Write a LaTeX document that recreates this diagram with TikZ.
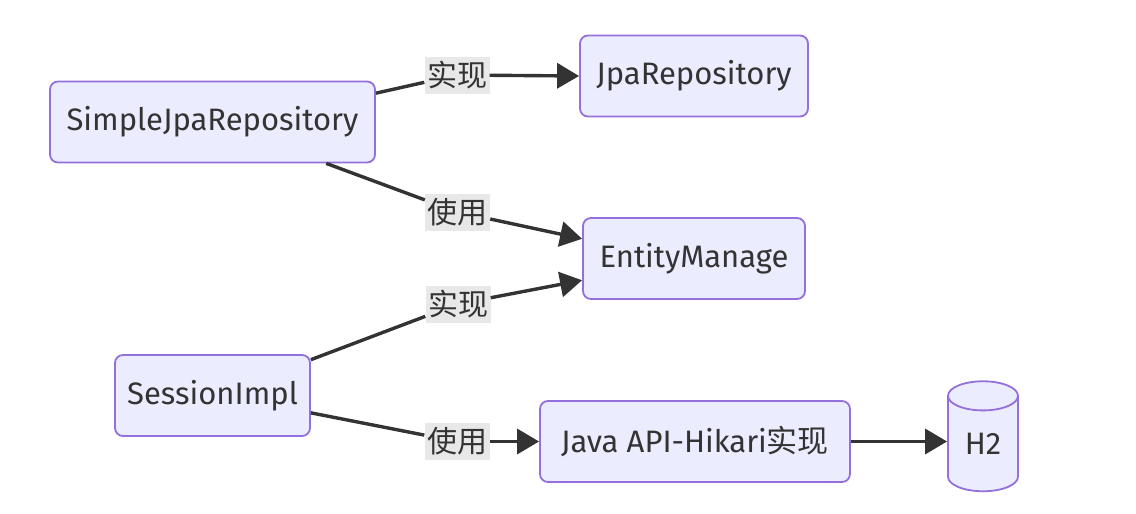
\documentclass[tikz,border=0pt]{standalone}
\usepackage{fontspec}
\setmainfont{Fira Sans}
\newfontfamily\cjk{Noto Sans CJK SC}
\usetikzlibrary{arrows.meta, shapes.geometric}
\definecolor{cnode}{HTML}{ECECFF}
\definecolor{cborder}{HTML}{9370DB}
\definecolor{cline}{HTML}{333333}
\definecolor{clabel}{HTML}{E8E8E8}
\tikzset{
  every picture/.style={font=\fontsize{31}{36}\selectfont, text=cline},
  box/.style={draw=cborder, fill=cnode, rounded corners=8pt, line width=1.8pt, minimum height=81pt, inner sep=0pt},
  edgelabel/.style={fill=clabel, inner sep=0pt, font=\cjk\fontsize{30}{34}\selectfont, minimum width=65pt, minimum height=37pt},
  link/.style={draw=cline, line width=3.4pt},
  arrow/.style={link, -{Triangle[length=22pt,width=25pt]}},
  db/.style={cylinder, shape border rotate=90, aspect=0.8, draw=cborder, fill=cnode, line width=1.8pt, minimum width=70pt, minimum height=110pt, inner sep=0pt},
}

\begin{document}
\begin{tikzpicture}[x=1pt, y=-1pt]
  \useasboundingbox (0,0) rectangle (1136,514);
  % ---------- nodes
  \node[box, minimum width=325pt] (sjr) at (212.5,122) {SimpleJpaRepository};
  \node[box, minimum width=228pt] (jpa) at (694,76) {JpaRepository};
  \node[box, minimum width=222pt] (ent) at (694,258.5) {EntityManage};
  \node[box, minimum width=195pt] (ses) at (212.5,395.5) {SessionImpl};
  \node[box, minimum width=310pt] (hik) at (695,441.5) {Java API-Hikari{\cjk 实现}};
  \node[db] (h2) at (983,444) {H2};
  % ---------- edge labels
  \node[edgelabel] (l1) at (457,75) {实现};
  \node[edgelabel] (l2) at (457.5,212) {使用};
  \node[edgelabel] (l3) at (458,304) {实现};
  \node[edgelabel] (l4) at (457,441.5) {使用};
  % ---------- connectors
  \draw[link] (sjr.10) -- (l1);
  \draw[arrow] (l1) -- (jpa.west);
  \draw[link] (sjr.-20) -- (l2);
  \draw[arrow] (l2) -- (ent.170.5);
  \draw[link] (ses.20) -- (l3);
  \draw[arrow] (l3) -- (ent.191);
  \draw[link] (ses.-10) -- (l4);
  \draw[arrow] (l4) -- (hik.west);
  \draw[arrow] (hik.east) -- (h2.west |- hik.east);
\end{tikzpicture}
\end{document}
